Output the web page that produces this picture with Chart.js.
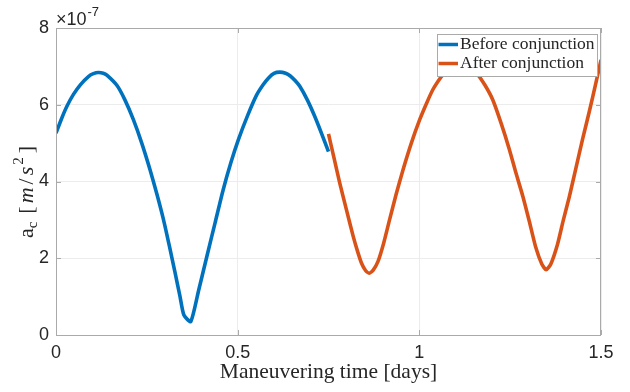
<!DOCTYPE html>
<html>
<head>
<meta charset="utf-8">
<script src="https://cdn.jsdelivr.net/npm/chart.js@4.4.1/dist/chart.umd.min.js"></script>
<style>
  html, body { margin: 0; padding: 0; background: #fff; }
  canvas { display: block; }
</style>
</head>
<body>
<canvas id="accChart" width="630" height="392"></canvas>
<script>
// acceleration magnitude (units of 1e-7 m/s^2) vs maneuvering time in days
var beforeTime = [0, 0.015, 0.030, 0.048, 0.067, 0.09, 0.103, 0.117, 0.13, 0.14, 0.168, 0.19, 0.213,
  0.236, 0.259, 0.278, 0.296, 0.312, 0.328, 0.341, 0.352, 0.371, 0.393, 0.415, 0.438, 0.460,
  0.481, 0.502, 0.527, 0.552, 0.57, 0.585, 0.60, 0.616, 0.632, 0.645, 0.658, 0.671, 0.692,
  0.712, 0.731, 0.75];
var beforeAcc = [5.26, 5.63, 5.96, 6.27, 6.52, 6.74, 6.81, 6.84, 6.82, 6.77, 6.50, 6.12, 5.61,
  5.00, 4.30, 3.66, 3.00, 2.32, 1.61, 1.02, 0.52, 0.35, 1.18, 2.04, 2.93, 3.78,
  4.48, 5.09, 5.71, 6.25, 6.52, 6.70, 6.82, 6.85, 6.82, 6.75, 6.63, 6.48, 6.12,
  5.70, 5.25, 4.78];

var afterTime = [0.75, 0.765, 0.781, 0.80, 0.818, 0.830, 0.841, 0.852, 0.862, 0.873, 0.886, 0.902,
  0.918, 0.936, 0.955, 0.978, 1.001, 1.020, 1.037, 1.052, 1.065, 1.088, 1.11, 1.134, 1.157,
  1.180, 1.202, 1.225, 1.248, 1.266, 1.285, 1.303, 1.320, 1.337, 1.349, 1.362, 1.38, 1.396,
  1.413, 1.431, 1.449, 1.468, 1.486, 1.5];
var afterAcc = [5.24, 4.62, 3.96, 3.24, 2.57, 2.18, 1.87, 1.68, 1.61, 1.69, 1.91, 2.40,
  3.00, 3.66, 4.30, 5.00, 5.61, 6.04, 6.39, 6.62, 6.78, 6.98, 7.05, 6.98, 6.83,
  6.52, 6.13, 5.52, 4.83, 4.22, 3.61, 2.95, 2.30, 1.85, 1.70, 1.85, 2.35, 2.98,
  3.61, 4.35, 5.09, 5.83, 6.57, 7.17];

var seriesNames = ["Before conjunction", "After conjunction"];
var xTicks = [0, 0.5, 1, 1.5];
var yTicks = [0, 2, 4, 6, 8];

var textColor = "#262626";
var boxColor = "#aaaaaa";

function pairs(xs, ys) {
  return xs.map(function (x, i) { return { x: x, y: ys[i] }; });
}

// box, inward ticks, exponent, y label and legend, matlab style
var axesExtras = {
  id: "axesExtras",
  afterDatasetsDraw: function (chart) {
    var ctx = chart.ctx;
    var a = chart.chartArea;
    var xs = chart.scales.x, ys = chart.scales.y;
    ctx.save();

    ctx.strokeStyle = boxColor;
    ctx.lineWidth = 1;
    ctx.strokeRect(a.left + 0.5, a.top + 0.5, a.right - a.left - 1, a.bottom - a.top);

    var tl = 5;
    ctx.beginPath();
    yTicks.forEach(function (v) {
      var py = Math.round(ys.getPixelForValue(v)) + 0.5;
      ctx.moveTo(a.left, py); ctx.lineTo(a.left + tl, py);
      ctx.moveTo(a.right, py); ctx.lineTo(a.right - tl, py);
    });
    xTicks.forEach(function (v) {
      var px = Math.round(xs.getPixelForValue(v)) + 0.5;
      ctx.moveTo(px, a.bottom); ctx.lineTo(px, a.bottom - tl);
      ctx.moveTo(px, a.top); ctx.lineTo(px, a.top + tl);
    });
    ctx.stroke();

    // x10^-7 multiplier
    ctx.fillStyle = textColor;
    ctx.textBaseline = "alphabetic";
    ctx.textAlign = "left";
    ctx.font = "18px 'Liberation Sans', Arial, sans-serif";
    ctx.fillText("\u00d710", 56, 25);
    var w10 = ctx.measureText("\u00d710").width;
    ctx.font = "13px 'Liberation Sans', Arial, sans-serif";
    ctx.fillText("-7", 56 + w10 + 1, 16);

    // y label: a_c [m/s^2], loosely spaced like TeX output
    var parts = [
      { t: "a", f: "22px 'Liberation Serif', serif", dy: 0 },
      { t: "c", f: "15px 'Liberation Serif', serif", dy: 4 },
      { t: "[", f: "22px 'Liberation Serif', serif", dy: 0, pre: 8 },
      { t: "m", f: "italic 22px 'Liberation Serif', serif", dy: 0, pre: 3 },
      { t: "/", f: "22px 'Liberation Serif', serif", dy: 0, pre: 3 },
      { t: "s", f: "italic 22px 'Liberation Serif', serif", dy: 0, pre: 3 },
      { t: "2", f: "15px 'Liberation Serif', serif", dy: -10, pre: 2 },
      { t: "]", f: "22px 'Liberation Serif', serif", dy: 0, pre: 4 }
    ];
    var total = 0;
    parts.forEach(function (p) {
      ctx.font = p.f;
      p.w = ctx.measureText(p.t).width;
      total += p.w + (p.pre || 0);
    });
    ctx.translate(33, 192);
    ctx.rotate(-Math.PI / 2);
    var cx = -total / 2;
    parts.forEach(function (p) {
      ctx.font = p.f;
      cx += p.pre || 0;
      ctx.fillText(p.t, cx, p.dy);
      cx += p.w;
    });
    ctx.setTransform(1, 0, 0, 1, 0, 0);

    // legend box in the upper right corner
    var lx = 437, ly = 34, lw = 160, lh = 42;
    ctx.fillStyle = "#ffffff";
    ctx.fillRect(lx, ly, lw, lh);
    ctx.strokeStyle = boxColor;
    ctx.strokeRect(lx + 0.5, ly + 0.5, lw, lh);
    chart.data.datasets.forEach(function (ds, i) {
      var rowY = ly + 10.5 + i * 19;
      ctx.strokeStyle = ds.borderColor;
      ctx.lineWidth = 3.5;
      ctx.beginPath();
      ctx.moveTo(lx + 1.5, rowY);
      ctx.lineTo(lx + 21, rowY);
      ctx.stroke();
      ctx.fillStyle = textColor;
      ctx.font = "17.5px 'Liberation Serif', serif";
      ctx.textBaseline = "middle";
      ctx.fillText(ds.label, lx + 23, rowY);
    });
    ctx.restore();
  }
};

new Chart(document.getElementById("accChart"), {
  type: "line",
  data: {
    datasets: [
      {
        label: seriesNames[0],
        data: pairs(beforeTime, beforeAcc),
        borderColor: "#0072BD",
        borderWidth: 3.6,
        pointRadius: 0,
        tension: 0.2,
        borderJoinStyle: "round",
        fill: false
      },
      {
        label: seriesNames[1],
        data: pairs(afterTime, afterAcc),
        borderColor: "#D95319",
        borderWidth: 3.6,
        pointRadius: 0,
        tension: 0.2,
        borderJoinStyle: "round",
        fill: false
      }
    ]
  },
  options: {
    responsive: false,
    animation: false,
    layout: { padding: { top: 28, right: 29, left: 0, bottom: 0 } },
    plugins: { legend: { display: false }, tooltip: { enabled: false } },
    scales: {
      x: {
        type: "linear",
        min: 0,
        max: 1.5,
        afterBuildTicks: function (s) { s.ticks = xTicks.map(function (v) { return { value: v }; }); },
        grid: { color: "#ececec", drawTicks: false },
        border: { display: false },
        ticks: {
          color: textColor,
          font: { family: "'Liberation Sans', Arial, sans-serif", size: 18 },
          padding: 7,
          maxRotation: 0,
          callback: function (v) { return String(v); }
        },
        title: {
          display: true,
          text: "Maneuvering time [days]",
          color: textColor,
          font: { family: "'Liberation Serif', serif", size: 21.5 },
          padding: { top: 0, bottom: 7 }
        },
        afterFit: function (s) { s.height = 57; }
      },
      y: {
        min: 0,
        max: 8,
        afterBuildTicks: function (s) { s.ticks = yTicks.map(function (v) { return { value: v }; }); },
        grid: { color: "#ececec", drawTicks: false },
        border: { display: false },
        ticks: { color: textColor, font: { family: "'Liberation Sans', Arial, sans-serif", size: 18 }, padding: 7 },
        afterFit: function (s) { s.width = 56; }
      }
    }
  },
  plugins: [axesExtras]
});
</script>
</body>
</html>
